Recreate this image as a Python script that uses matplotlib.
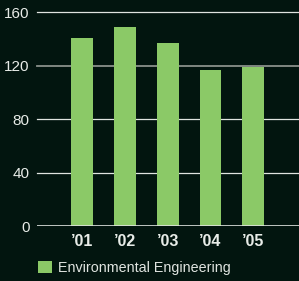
import matplotlib
matplotlib.use("Agg")
import matplotlib.pyplot as plt

years = ["\u201901", "\u201902", "\u201903", "\u201904", "\u201905"]
values = [141, 149, 137, 117, 119]
yticks = [0, 40, 80, 120, 160]
series_name = "Environmental Engineering"

bg = "#02150f"
bar_color = "#8bc967"
plt.rcParams['font.family'] = ['Liberation Sans', 'DejaVu Sans']

fig = plt.figure(figsize=(2.99, 2.81), dpi=100, facecolor=bg)
ax = fig.add_axes([36.7 / 299, 55 / 281, 1 - 36.7 / 299, (226 - 12.3) / 281])
ax.set_facecolor(bg)

x = range(len(values))
ax.bar(x, values, width=0.51, color=bar_color, zorder=3, label=series_name)

ax.set_ylim(0, 160)
ax.set_xlim(-1.06, 5.07)
ax.set_yticks(yticks)
ax.set_yticklabels([str(t) for t in yticks], fontsize=11, color="#e8ece8")
ax.set_xticks(list(x))
ax.set_xticklabels(years, fontsize=11.5, fontweight="bold", color="#e8ece8")
ax.tick_params(axis="both", length=0)
ax.tick_params(axis="y", pad=5)
ax.tick_params(axis="x", pad=6)

for t in yticks[1:]:
    c = "#8a918b" if t == 120 else "#e0e4e0"
    lw = 1.3 if t == 120 else 0.9
    ax.axhline(t, color=c, lw=lw, zorder=1, clip_on=False)
ax.axhline(0, color="#e0e4e0", lw=1.2, zorder=4)

for s in ax.spines.values():
    s.set_visible(False)

leg = fig.legend(loc="lower left", bbox_to_anchor=(0.084, -0.025), frameon=False,
                 fontsize=10.3, handlelength=0.95, handleheight=0.95,
                 handletextpad=0.45, labelcolor="#e0e4e0")

fig.savefig("out.png", dpi=100, facecolor=bg)
